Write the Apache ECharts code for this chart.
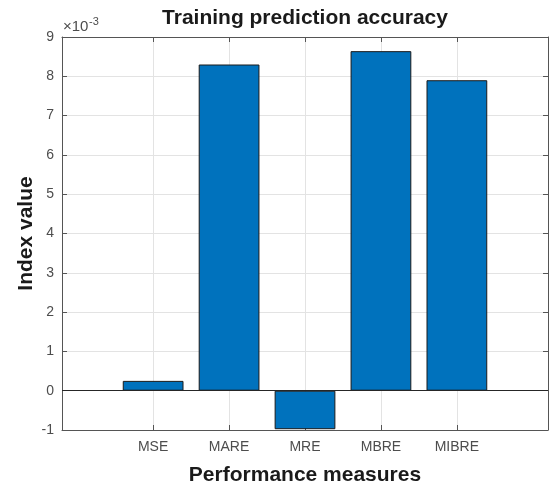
<!DOCTYPE html>
<html>
<head>
<meta charset="utf-8">
<script src="https://cdn.jsdelivr.net/npm/echarts@6/dist/echarts.min.js"></script>
<style>
  html, body { margin: 0; padding: 0; background: #fff; }
  #chart { width: 550px; height: 487px; }
</style>
</head>
<body>
<div id="chart"></div>
<script>
// Performance measures and their index values (training set)
const measures = ['MSE', 'MARE', 'MRE', 'MBRE', 'MIBRE'];
const positions = [1, 2, 3, 4, 5];
const indexValues = [0.00025, 0.0083, -0.00098, 0.00864, 0.0079];

// Axis ranges
const xRange = [-0.2, 6.2];
const yRange = [-0.001, 0.009];
const yStep = 0.001;

const font = 'Liberation Sans, Arial, Helvetica, sans-serif';
const frameColor = '#555';
const labelColor = '#4d4d4d';
const gridColor = '#e3e3e3';

const chart = echarts.init(document.getElementById('chart'), null, { renderer: 'canvas' });

const xLabel = v => {
  const i = Math.round(v) - 1;
  return measures[i] !== undefined ? measures[i] : '';
};

chart.setOption({
  animation: false,
  backgroundColor: '#fff',
  grid: { left: 62, right: 2, top: 37, bottom: 57, containLabel: false, outerBoundsMode: 'none' },
  graphic: [
    {
      type: 'text', x: 305, y: 18,
      style: {
        text: 'Training prediction accuracy', font: 'bold 21px ' + font,
        fill: '#1a1a1a', align: 'center', verticalAlign: 'middle'
      }
    },
    {
      type: 'text', x: 63, y: 34,
      style: { text: '×10', font: '15px ' + font, fill: labelColor, align: 'left', verticalAlign: 'bottom' }
    },
    {
      type: 'text', x: 89, y: 27,
      style: { text: '-3', font: '11px ' + font, fill: labelColor, align: 'left', verticalAlign: 'bottom' }
    }
  ],
  xAxis: [
    {
      type: 'value', position: 'bottom',
      min: xRange[0], max: xRange[1],
      name: 'Performance measures', nameLocation: 'middle', nameGap: 35, nameMoveOverlap: false,
      nameTextStyle: { fontFamily: font, fontSize: 21, fontWeight: 'bold', color: '#1a1a1a' },
      axisLine: { show: true, onZero: false, lineStyle: { color: frameColor, width: 1 } },
      axisTick: { show: true, inside: true, length: 5, customValues: positions, lineStyle: { color: frameColor } },
      axisLabel: { customValues: positions, formatter: xLabel, margin: 10, fontFamily: font, fontSize: 14, color: labelColor },
      splitLine: { show: true, lineStyle: { color: gridColor, width: 1 } }
    },
    {
      type: 'value', position: 'top',
      min: xRange[0], max: xRange[1],
      axisLine: { show: true, onZero: false, lineStyle: { color: frameColor, width: 1 } },
      axisTick: { show: true, inside: true, length: 5, customValues: positions, lineStyle: { color: frameColor } },
      axisLabel: { show: false },
      splitLine: { show: false }
    }
  ],
  yAxis: [
    {
      type: 'value', position: 'left',
      min: yRange[0], max: yRange[1], interval: yStep,
      name: 'Index value', nameLocation: 'middle', nameGap: 25, nameRotate: 90, nameMoveOverlap: false,
      nameTextStyle: { fontFamily: font, fontSize: 21, fontWeight: 'bold', color: '#1a1a1a' },
      axisLine: { show: true, onZero: false, lineStyle: { color: frameColor, width: 1 } },
      axisTick: { show: true, inside: true, length: 5, lineStyle: { color: frameColor } },
      axisLabel: {
        formatter: v => String(Math.round(v / yStep)),
        margin: 8, fontFamily: font, fontSize: 14, color: labelColor
      },
      splitLine: { show: true, lineStyle: { color: gridColor, width: 1 } }
    },
    {
      type: 'value', position: 'right',
      min: yRange[0], max: yRange[1], interval: yStep,
      axisLine: { show: true, onZero: false, lineStyle: { color: frameColor, width: 1 } },
      axisTick: { show: true, inside: true, length: 5, lineStyle: { color: frameColor } },
      axisLabel: { show: false },
      splitLine: { show: false }
    }
  ],
  series: [
    {
      type: 'bar',
      xAxisIndex: 0, yAxisIndex: 0,
      barWidth: '80%',
      data: positions.map((p, i) => [p, indexValues[i]]),
      itemStyle: { color: '#0072BD', borderColor: '#1a1a1a', borderWidth: 1 },
      markLine: {
        silent: true, symbol: 'none', animation: false,
        label: { show: false },
        lineStyle: { color: '#262626', width: 1, type: 'solid' },
        data: [{ yAxis: 0 }]
      }
    }
  ]
});
</script>
</body>
</html>
